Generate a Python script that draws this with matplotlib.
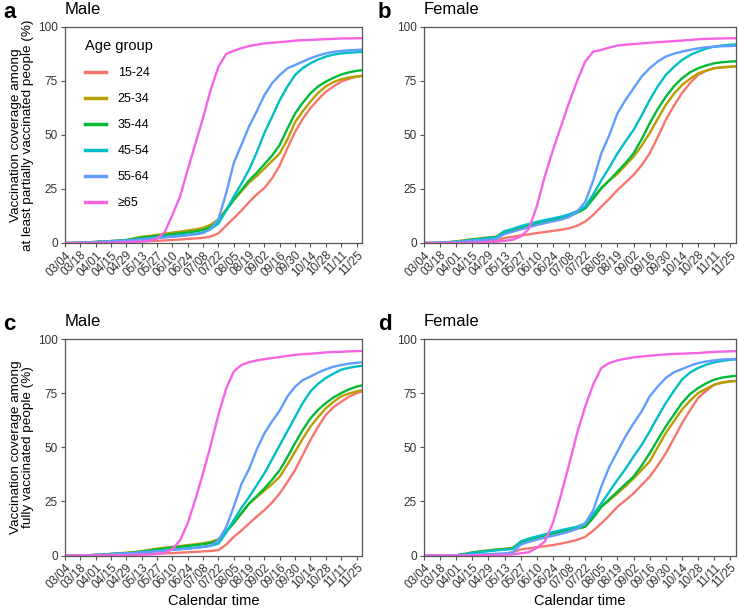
import numpy as np
import pandas as pd
import matplotlib
matplotlib.use("Agg")
import matplotlib.pyplot as plt
import matplotlib.dates as mdates
from matplotlib.lines import Line2D

plt.rcParams['font.family'] = ['Liberation Sans', 'DejaVu Sans']

# ---- data ----
dates = list(pd.date_range("2021-03-04", "2021-11-25", freq="7D")) + [pd.Timestamp("2021-11-30")]
tick_dates = pd.date_range("2021-03-04", "2021-11-25", freq="14D")
age_groups = ["15-24", "25-34", "35-44", "45-54", "55-64", "\u226565"]
colors = ["#F8766D", "#B79F00", "#00BA38", "#00BFC4", "#619CFF", "#F564E3"]

# Panel a: Male, at least partially vaccinated
a_15_24 = [0,0,0,0.1,0.2,0.3,0.4,0.5,0.6,0.7,0.8,0.9,1.0,1.2,1.4,1.6,1.9,2.1,2.4,3.0,
           4.5,8,11.5,15,19,22.5,25.5,30,36,44,51.5,57.5,62.5,66.5,70,72.5,74.7,76,77,77.4]
a_25_34 = [0,0,0.1,0.3,0.5,0.7,0.9,1.1,1.4,2.2,2.9,3.3,3.8,4.3,4.8,5.3,5.8,6.3,7.0,8.5,
           11,15.5,20,24,28,31,34.5,38,41.5,48,56,61,65.5,69.5,72.5,74.5,75.8,76.6,77.1,77.3]
a_35_44 = [0,0,0.1,0.3,0.5,0.7,0.9,1.1,1.3,1.9,2.5,2.9,3.3,3.7,4.1,4.5,4.9,5.4,6.0,7.5,
           10,15,20,24.5,29,32.5,36.5,40.5,45.5,53,60,65,69.3,72.5,74.7,76.5,78,79,79.7,80]
a_45_54 = [0,0,0.1,0.2,0.4,0.6,0.8,1.0,1.2,1.5,1.9,2.2,2.6,2.9,3.2,3.5,3.9,4.3,4.8,6.5,
           9,15,21.5,27.5,34,42,51,58.5,66.2,72.5,77.8,81,83.2,85,86.3,87.2,87.8,88.1,88.3,88.5]
a_55_64 = [0,0,0.1,0.2,0.4,0.6,0.8,1.0,1.1,1.4,1.7,2.0,2.3,2.6,2.9,3.2,3.6,4.0,4.6,6.5,
           11,23,37,45.5,54,61,68.5,74,77.8,80.9,82.4,84,85.5,86.8,87.8,88.5,88.9,89.2,89.4,89.5]
a_65 = [0,0,0,0,0.1,0.1,0.2,0.3,0.4,0.5,0.7,1.0,2.0,5.0,13,21.5,34,46,58,71,
        81.6,87.5,89,90.2,91.2,91.8,92.4,92.7,93,93.3,93.7,93.9,94,94.2,94.4,94.5,94.7,94.7,94.8,94.8]

# Panel b: Female, at least partially vaccinated
b_15_24 = [0,0,0,0.1,0.2,0.3,0.5,0.7,1.0,1.4,2.3,2.9,3.5,4.0,4.6,5.1,5.6,6.1,6.8,8.0,
           9.9,13,16.8,20.5,24.5,28,31.5,36,41.5,49,57,63.5,69.3,74,77.8,79.7,80.9,81.4,81.6,81.8]
b_25_34 = [0,0,0.1,0.4,0.8,1.3,1.8,2.2,2.6,3.0,5.5,6.3,7.3,8.3,9.3,10.2,11.0,11.8,12.6,14.5,
           16.5,21,25.5,29,32,36,40,45,50.8,57.5,63.9,69,73.1,76,78.5,79.8,80.9,81.3,81.6,81.8]
b_35_44 = [0,0,0.1,0.3,0.6,1.0,1.5,1.9,2.3,2.7,5.0,6.0,7.2,8.2,9.2,10.0,10.8,11.6,12.4,14,
           16,20.5,25.3,29,33,37,41.5,48,55.4,62,67.7,72.5,76.2,79,80.9,82.2,83.2,83.7,84,84.1]
b_45_54 = [0,0,0.1,0.3,0.6,1.0,1.5,1.9,2.3,2.7,5.5,6.5,7.8,8.8,9.8,10.6,11.4,12.2,13.2,14.8,
           16.8,22.5,29,35,41.5,47,52.3,59,66.2,72.5,77.8,81.5,84.7,87,88.6,90,90.9,91.4,91.8,91.9]
b_55_64 = [0,0,0.1,0.2,0.4,0.7,1.0,1.3,1.6,2.0,4.2,5.2,6.3,7.3,8.3,9.2,10.0,10.8,12.0,14.5,
           19,29,41.5,50,60,66.2,71.6,77,80.9,84,86.3,87.6,88.6,89.4,90.1,90.6,90.9,91.1,91.2,91.3]
b_65 = [0,0,0,0,0,0.1,0.2,0.3,0.4,0.6,1.0,1.5,3.0,6.5,17,31,43,54,65,75,
        84,88.6,89.4,90.5,91.4,91.8,92.1,92.4,92.7,93,93.2,93.5,93.7,94,94.3,94.5,94.6,94.7,94.8,94.8]

# Panel c: Male, fully vaccinated
c_15_24 = [0,0,0,0,0.1,0.2,0.3,0.4,0.5,0.6,0.7,0.8,0.9,1.0,1.1,1.3,1.5,1.7,1.9,2.1,
           2.5,5,8.6,11.5,14.8,18,21,24.5,28.7,34,39.5,46.5,53.4,59.5,65,68.5,71,73.3,75,75.8]
c_25_34 = [0,0,0,0.1,0.3,0.5,0.8,1.0,1.3,1.6,2.0,2.6,3.2,3.6,4.0,4.4,4.8,5.2,5.7,6.3,
           7.5,11,15,19.5,24,27,30,33,36.4,42,48,54,59.6,64,68,71,73.5,74.8,75.8,76.3]
c_35_44 = [0,0,0,0.1,0.3,0.5,0.7,0.9,1.1,1.4,1.8,2.3,2.8,3.2,3.6,4.0,4.4,4.8,5.2,5.8,
           7,11,15,19.5,24,27.5,31,35,39.5,45.5,52,58,63.4,67.3,70.4,73,75,76.7,78,78.6]
c_45_54 = [0,0,0,0.1,0.2,0.4,0.6,0.8,1.0,1.2,1.5,1.8,2.1,2.4,2.7,3.0,3.3,3.6,4.0,4.5,
           5.5,10.5,16.4,22,27,32.5,38,44.5,51,57.5,64,70.5,75.8,79.3,82,84,85.8,86.7,87.3,87.6]
c_55_64 = [0,0,0,0.1,0.2,0.4,0.6,0.8,1.0,1.2,1.4,1.7,2.0,2.3,2.6,2.9,3.2,3.5,3.9,4.5,
           7,13,22.5,33,40,49,56.5,62,67,73.5,78,81,82.7,84.5,86,87.2,88,88.6,89,89.2]
c_65 = [0,0,0,0,0,0.1,0.1,0.2,0.2,0.3,0.4,0.5,0.7,1.2,3,7,15,26,38,51,
        65,77,85,88,89.3,90.1,90.7,91.2,91.7,92.2,92.7,93,93.2,93.5,93.8,94,94.1,94.3,94.4,94.5]

# Panel d: Female, fully vaccinated
d_15_24 = [0,0,0,0,0,0,0.1,0.2,0.3,0.4,0.6,1.5,2.8,3.3,3.8,4.3,4.8,5.5,6.3,7.2,
           8.6,11.5,14.8,18.5,22.5,25.5,28.7,32.5,36.4,41.5,47.2,54,61,67,72.7,76,78.9,80,80.4,80.6]
d_25_34 = [0,0,0,0,0.1,0.7,1.5,2.0,2.4,2.8,3.1,3.6,6.3,7.5,8.5,9.5,10.3,11.2,12.0,12.6,
           13.3,17.5,22.5,25.5,28.7,32,35.6,39.5,43.4,50,56.5,62,67.3,71.5,75,77,78.9,79.8,80.4,80.7]
d_35_44 = [0,0,0,0,0.1,0.6,1.3,1.8,2.2,2.6,2.9,3.2,6.0,7.3,8.3,9.3,10.1,11.0,11.8,12.4,
           13.3,17.5,22.5,26,29.5,33,36.4,41.5,47.2,53.5,59.6,65,70.4,74.5,77.3,79.5,81.2,82.2,82.7,83]
d_45_54 = [0,0,0,0,0.1,0.5,1.2,1.6,2.0,2.4,2.7,3.0,6.5,7.8,8.8,9.8,10.8,11.7,12.5,13.3,
           14.8,19,24,29.5,34.9,40,45.7,51,57.3,64,70.4,76,81.2,84.5,86.6,88.1,89.2,89.9,90.4,90.6]
d_55_64 = [0,0,0,0,0,0.2,0.4,0.5,0.6,0.8,1.0,1.4,5.0,6.3,7.3,8.2,9.1,10.0,11.0,12.3,
           14.8,21,31.8,41,48,55,61,66.5,73.5,78,82,84.6,86.1,87.6,88.9,89.6,90.1,90.5,90.7,90.8]
d_65 = [0,0,0,0,0,0,0.1,0.1,0.2,0.2,0.3,0.5,1.0,1.5,3.5,6.5,15,28,42,56.5,
        68.8,79,86.6,88.9,90.1,90.9,91.5,91.9,92.3,92.6,92.9,93.1,93.2,93.4,93.5,93.8,94,94.2,94.3,94.4]

panels = [
    ("a", "Male", [a_15_24, a_25_34, a_35_44, a_45_54, a_55_64, a_65]),
    ("b", "Female", [b_15_24, b_25_34, b_35_44, b_45_54, b_55_64, b_65]),
    ("c", "Male", [c_15_24, c_25_34, c_35_44, c_45_54, c_55_64, c_65]),
    ("d", "Female", [d_15_24, d_25_34, d_35_44, d_45_54, d_55_64, d_65]),
]
ylabels = {"a": "Vaccination coverage among\nat least partially vaccinated people (%)",
           "c": "Vaccination coverage among\nfully vaccinated people (%)"}

W, H = 739, 610
fig = plt.figure(figsize=(W / 100, H / 100), dpi=100)

def rect(l, r, t, b):
    return [l / W, 1 - b / H, (r - l) / W, (b - t) / H]

rects = {"a": rect(65, 362, 27, 243), "b": rect(424, 736, 27, 243),
         "c": rect(65, 362, 339, 555.5), "d": rect(424, 736, 339, 555.5)}

frame_col = "#555555"
text_col = "#333333"
for letter, title, series in panels:
    ax = fig.add_axes(rects[letter])
    for vals, lab, col in zip(series, age_groups, colors):
        ax.plot(dates, vals, color=col, lw=1.7, label=lab, solid_capstyle="butt", clip_on=True)
    ax.set_xlim(pd.Timestamp("2021-03-04"), pd.Timestamp("2021-11-30"))
    ax.set_ylim(0, 100)
    ax.set_yticks([0, 25, 50, 75, 100])
    ax.set_xticks(tick_dates)
    ax.set_xticklabels([d.strftime("%m/%d") for d in tick_dates], rotation=45,
                       ha="right", rotation_mode="anchor")
    ax.tick_params(axis="both", direction="out", length=3, width=0.8, color=frame_col,
                   labelsize=8.5, labelcolor=text_col, pad=2)
    ax.tick_params(axis="x", pad=1.5)
    for sp in ax.spines.values():
        sp.set_color(frame_col)
        sp.set_linewidth(0.9)
    ax.set_title(title, loc="left", fontsize=12, pad=9)
    pos = ax.get_position()
    lx = 3 if letter in "ac" else 378
    fig.text(lx / W, pos.y1 + 9 / H, letter,
             fontsize=16, fontweight="bold", ha="left", va="baseline")
    if letter in ylabels:
        ax.set_ylabel(ylabels[letter], fontsize=9.7, labelpad=3, linespacing=1.05)
    if letter in "cd":
        ax.set_xlabel("Calendar time", fontsize=10.5, labelpad=2)
    if letter == "a":
        handles = [Line2D([0], [0], color=c, lw=2.5) for c in colors]
        leg = ax.legend(handles, age_groups, title="Age group", loc="upper left",
                        bbox_to_anchor=(0.03, 0.995), frameon=False, fontsize=9,
                        title_fontsize=10.5, handlelength=1.7, labelspacing=1.12,
                        handletextpad=0.9)
        leg._legend_box.align = "left"

fig.savefig("out.png", dpi=100)
